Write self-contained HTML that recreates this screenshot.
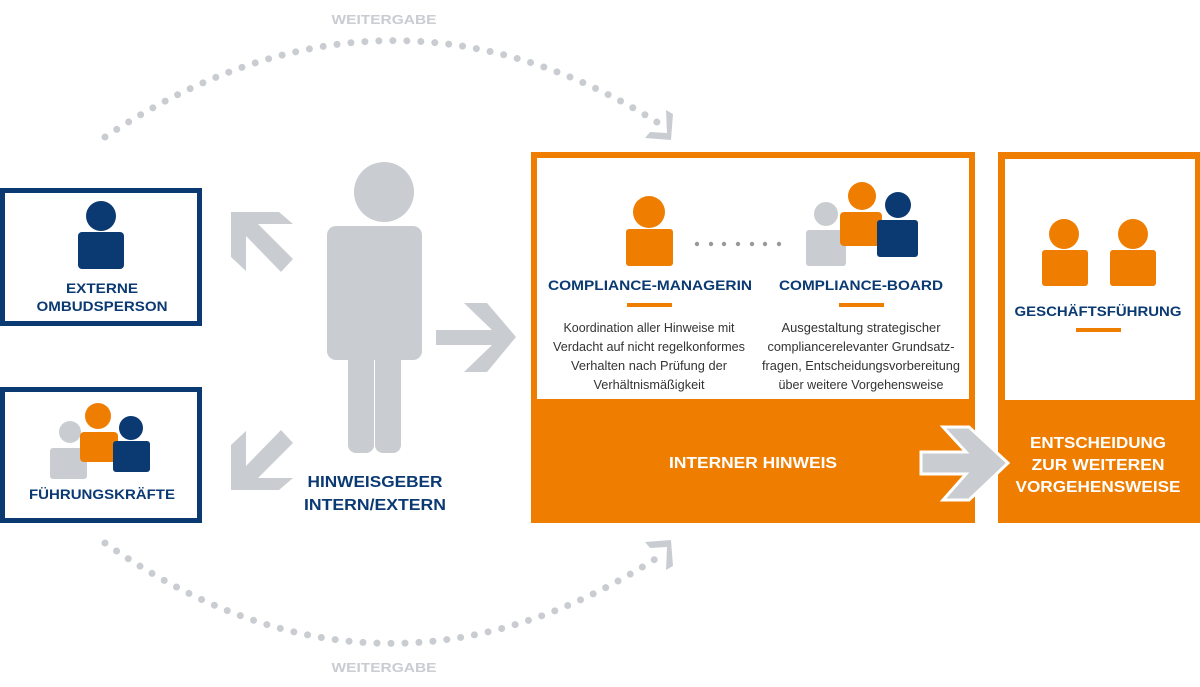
<!DOCTYPE html>
<html><head><meta charset="utf-8"><style>
html,body{margin:0;padding:0;background:#fff;}
svg{display:block;}
text{font-family:"Liberation Sans",sans-serif;}
.b{font-weight:bold;fill:#0b3a73;font-size:14px;}
.w{font-weight:bold;fill:#fff;font-size:16px;}
.d{fill:#333;font-size:12.5px;}
.g{font-weight:bold;fill:#c9ccd0;font-size:13px;}
</style></head><body>
<svg width="1200" height="687" viewBox="0 0 1200 687" xmlns="http://www.w3.org/2000/svg">
<!-- dotted arcs -->
<path d="M105 137 Q385 -49 660 124" fill="none" stroke="#c9ccd0" stroke-width="7" stroke-linecap="round" stroke-dasharray="0 14"/>
<path d="M105 543 Q380 737 660 556" fill="none" stroke="#c9ccd0" stroke-width="7" stroke-linecap="round" stroke-dasharray="0 14"/>
<polygon points="666,110 673,114 671,140 645,138 650,132 667,133" fill="#c9ccd0"/>
<polygon points="666,570 673,566 671,540 645,542 650,548 667,547" fill="#c9ccd0"/>
<text class="g" x="384" y="24" text-anchor="middle" textLength="105" lengthAdjust="spacingAndGlyphs">WEITERGABE</text>
<text class="g" x="384" y="672" text-anchor="middle" textLength="105" lengthAdjust="spacingAndGlyphs">WEITERGABE</text>

<!-- left boxes -->
<rect x="2.5" y="190.5" width="197" height="133" fill="#fff" stroke="#0b3a73" stroke-width="5"/>
<circle cx="101" cy="216" r="15" fill="#0b3a73"/>
<rect x="78" y="232" width="46" height="37" rx="4" fill="#0b3a73"/>
<text class="b" x="102" y="293" text-anchor="middle" textLength="72" lengthAdjust="spacingAndGlyphs">EXTERNE</text>
<text class="b" x="102" y="311" text-anchor="middle" textLength="131" lengthAdjust="spacingAndGlyphs">OMBUDSPERSON</text>

<rect x="2.5" y="389.5" width="197" height="131" fill="#fff" stroke="#0b3a73" stroke-width="5"/>
<circle cx="70" cy="432" r="11" fill="#c9ccd0"/>
<rect x="50" y="448" width="37" height="31" rx="3" fill="#c9ccd0"/>
<circle cx="98" cy="416" r="13" fill="#ef7d00"/>
<rect x="80" y="432" width="38" height="30" rx="4" fill="#ef7d00"/>
<circle cx="131" cy="428" r="12" fill="#0b3a73"/>
<rect x="113" y="441" width="37" height="31" rx="3" fill="#0b3a73"/>
<text class="b" x="102" y="499" text-anchor="middle" textLength="146" lengthAdjust="spacingAndGlyphs">FÜHRUNGSKRÄFTE</text>

<!-- grey arrows -->
<g fill="#c9ccd0">
<polygon points="231,212 279,212 293,224 258,224 293,259 281,272 246,236 246,271 231,257"/>
<polygon points="231,490 279,490 293,478 258,478 293,443 281,430 246,466 246,431 231,445"/>
<polygon points="436,330 492,330 464,303 487,303 516,337 487,372 464,372 492,345 436,345"/>
</g>

<!-- big person -->
<g fill="#c9ccd0">
<circle cx="384" cy="192" r="30"/>
<rect x="327" y="226" width="95" height="134" rx="9"/>
<rect x="348" y="340" width="26" height="113" rx="8"/>
<rect x="375" y="340" width="26" height="113" rx="8"/>
</g>
<text class="b" x="375" y="487" text-anchor="middle" textLength="135" lengthAdjust="spacingAndGlyphs" style="font-size:16px">HINWEISGEBER</text>
<text class="b" x="375" y="510" text-anchor="middle" textLength="142" lengthAdjust="spacingAndGlyphs" style="font-size:16px">INTERN/EXTERN</text>

<!-- orange box -->
<rect x="531" y="152" width="444" height="371" fill="#ef7d00"/>
<rect x="537" y="158" width="432" height="241" fill="#fff"/>
<circle cx="649" cy="212" r="16" fill="#ef7d00"/>
<rect x="626" y="229" width="47" height="37" rx="3" fill="#ef7d00"/>
<g fill="#999">
<circle cx="697" cy="244" r="2.2"/><circle cx="711" cy="244" r="2.2"/><circle cx="724" cy="244" r="2.2"/><circle cx="738" cy="244" r="2.2"/><circle cx="752" cy="244" r="2.2"/><circle cx="765" cy="244" r="2.2"/><circle cx="779" cy="244" r="2.2"/>
</g>
<circle cx="826" cy="214" r="12" fill="#c9ccd0"/>
<rect x="806" y="230" width="40" height="36" rx="3" fill="#c9ccd0"/>
<circle cx="862" cy="196" r="14" fill="#ef7d00"/>
<rect x="840" y="212" width="42" height="34" rx="4" fill="#ef7d00"/>
<circle cx="898" cy="205" r="13" fill="#0b3a73"/>
<rect x="877" y="220" width="41" height="37" rx="3" fill="#0b3a73"/>
<text class="b" x="650" y="290" text-anchor="middle" textLength="204" lengthAdjust="spacingAndGlyphs">COMPLIANCE-MANAGERIN</text>
<text class="b" x="861" y="290" text-anchor="middle" textLength="164" lengthAdjust="spacingAndGlyphs">COMPLIANCE-BOARD</text>
<rect x="627" y="303" width="45" height="4" fill="#ef7d00"/>
<rect x="839" y="303" width="45" height="4" fill="#ef7d00"/>
<text class="d" x="649" y="332" text-anchor="middle" textLength="171" lengthAdjust="spacingAndGlyphs">Koordination aller Hinweise mit</text>
<text class="d" x="649" y="351" text-anchor="middle" textLength="192" lengthAdjust="spacingAndGlyphs">Verdacht auf nicht regelkonformes</text>
<text class="d" x="649" y="370" text-anchor="middle" textLength="156" lengthAdjust="spacingAndGlyphs">Verhalten nach Prüfung der</text>
<text class="d" x="649" y="389" text-anchor="middle" textLength="111" lengthAdjust="spacingAndGlyphs">Verhältnismäßigkeit</text>
<text class="d" x="861" y="332" text-anchor="middle" textLength="159" lengthAdjust="spacingAndGlyphs">Ausgestaltung strategischer</text>
<text class="d" x="861" y="351" text-anchor="middle" textLength="187" lengthAdjust="spacingAndGlyphs">compliancerelevanter Grundsatz-</text>
<text class="d" x="861" y="370" text-anchor="middle" textLength="198" lengthAdjust="spacingAndGlyphs">fragen, Entscheidungsvorbereitung</text>
<text class="d" x="861" y="389" text-anchor="middle" textLength="165" lengthAdjust="spacingAndGlyphs">über weitere Vorgehensweise</text>
<text class="w" x="753" y="468" text-anchor="middle" textLength="168" lengthAdjust="spacingAndGlyphs">INTERNER HINWEIS</text>

<!-- right box -->
<rect x="998" y="152" width="202" height="371" fill="#ef7d00"/>
<rect x="1005" y="159" width="190" height="241" fill="#fff"/>
<circle cx="1064" cy="234" r="15" fill="#ef7d00"/>
<rect x="1042" y="250" width="46" height="36" rx="3" fill="#ef7d00"/>
<circle cx="1133" cy="234" r="15" fill="#ef7d00"/>
<rect x="1110" y="250" width="46" height="36" rx="3" fill="#ef7d00"/>
<text class="b" x="1098" y="316" text-anchor="middle" textLength="167" lengthAdjust="spacingAndGlyphs">GESCHÄFTSFÜHRUNG</text>
<rect x="1076" y="328" width="45" height="4" fill="#ef7d00"/>
<text class="w" x="1098" y="448" text-anchor="middle" textLength="136" lengthAdjust="spacingAndGlyphs">ENTSCHEIDUNG</text>
<text class="w" x="1098" y="470" text-anchor="middle" textLength="133" lengthAdjust="spacingAndGlyphs">ZUR WEITEREN</text>
<text class="w" x="1098" y="492" text-anchor="middle" textLength="165" lengthAdjust="spacingAndGlyphs">VORGEHENSWEISE</text>

<!-- orange-area arrow -->
<polygon points="921,452 966,452 943,427 969,427 1008,463 969,500 943,500 966,474 921,474" fill="#c9ccd0" stroke="#fff" stroke-width="3" stroke-linejoin="miter"/>
</svg>
</body></html>
